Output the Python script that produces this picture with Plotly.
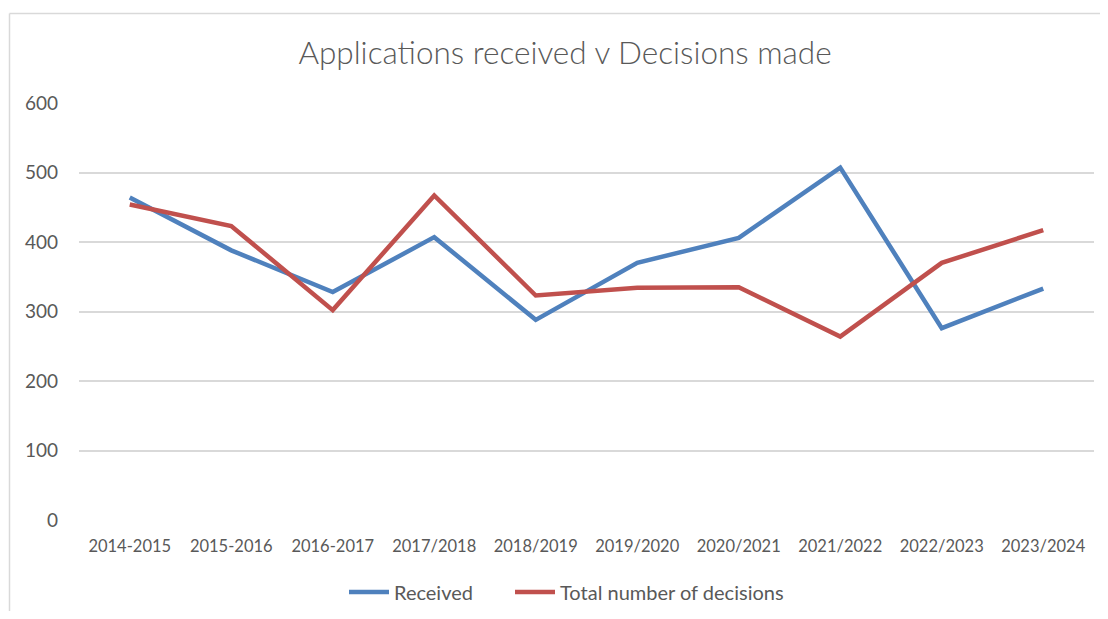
import plotly.graph_objects as go

categories = ["2014-2015", "2015-2016", "2016-2017", "2017/2018", "2018/2019",
              "2019/2020", "2020/2021", "2021/2022", "2022/2023", "2023/2024"]
received = [464, 388, 328, 407, 288, 370, 406, 507, 276, 333]
decisions = [454, 423, 302, 467, 323, 334, 335, 264, 370, 417]
y_ticks = [0, 100, 200, 300, 400, 500, 600]

# page body has an 8px margin; figure is sized to fit inside the window
OFF = 8
W, H = 1108 - 2 * OFF, 619 - 2 * OFF
L = 79 - OFF
T = 103 - OFF
R = W - (1094 - OFF)
B = H - (520 - OFF)
pw, ph = W - L - R, H - T - B

def px_x(x):
    return (x - OFF - L) / pw

def px_y(y):
    return (H - B - (y - OFF)) / ph

FONT = "Lato"
TXT = "#595959"

fig = go.Figure()
fig.add_trace(go.Scatter(x=list(range(len(categories))), y=received, name="Received",
                         mode="lines", line=dict(color="#4F81BD", width=4.5),
                         legend="legend"))
fig.add_trace(go.Scatter(x=list(range(len(categories))), y=decisions,
                         name="Total number of decisions",
                         mode="lines", line=dict(color="#C0504D", width=4.5),
                         legend="legend2"))

leg_common = dict(orientation="h", xanchor="left", yanchor="middle",
                  y=px_y(592), font=dict(size=20, color=TXT), itemwidth=40,
                  bgcolor="rgba(0,0,0,0)")

fig.update_layout(
    width=W, height=H,
    margin=dict(l=L, r=R, t=T, b=B, autoexpand=False),
    paper_bgcolor="white", plot_bgcolor="white",
    font=dict(family=FONT, color=TXT, size=17),
    title=dict(text="Applications received v Decisions made",
               x=(565 - OFF) / W, xanchor="center", y=1 - (53 - OFF) / H,
               yanchor="middle",
               font=dict(family=FONT, size=31.5, color=TXT, weight=300)),
    showlegend=True,
    legend=dict(x=px_x(344), **leg_common),
    legend2=dict(x=px_x(510), **leg_common),
    xaxis=dict(range=[-0.5, len(categories) - 0.5],
               tickmode="array", tickvals=list(range(len(categories))),
               ticktext=categories, showgrid=False, zeroline=False,
               showline=False, ticks="", ticklabelstandoff=14,
               tickfont=dict(size=16.5, color=TXT)),
    yaxis=dict(range=[0, 600], tickmode="array", tickvals=y_ticks,
               showgrid=True, gridcolor="#D9D9D9", gridwidth=1.5,
               zeroline=False, showline=False, ticks="",
               ticklabelstandoff=20, tickfont=dict(size=19, color=TXT)),
    shapes=[
        dict(type="line", xref="paper", yref="paper",
             x0=px_x(9.5), x1=px_x(1120), y0=px_y(13.5), y1=px_y(13.5),
             line=dict(color="#D9D9D9", width=1.5)),
        dict(type="line", xref="paper", yref="paper",
             x0=px_x(9.5), x1=px_x(9.5), y0=px_y(13.5), y1=px_y(630),
             line=dict(color="#D9D9D9", width=1.5)),
    ],
)

fig.write_html("out.html")
